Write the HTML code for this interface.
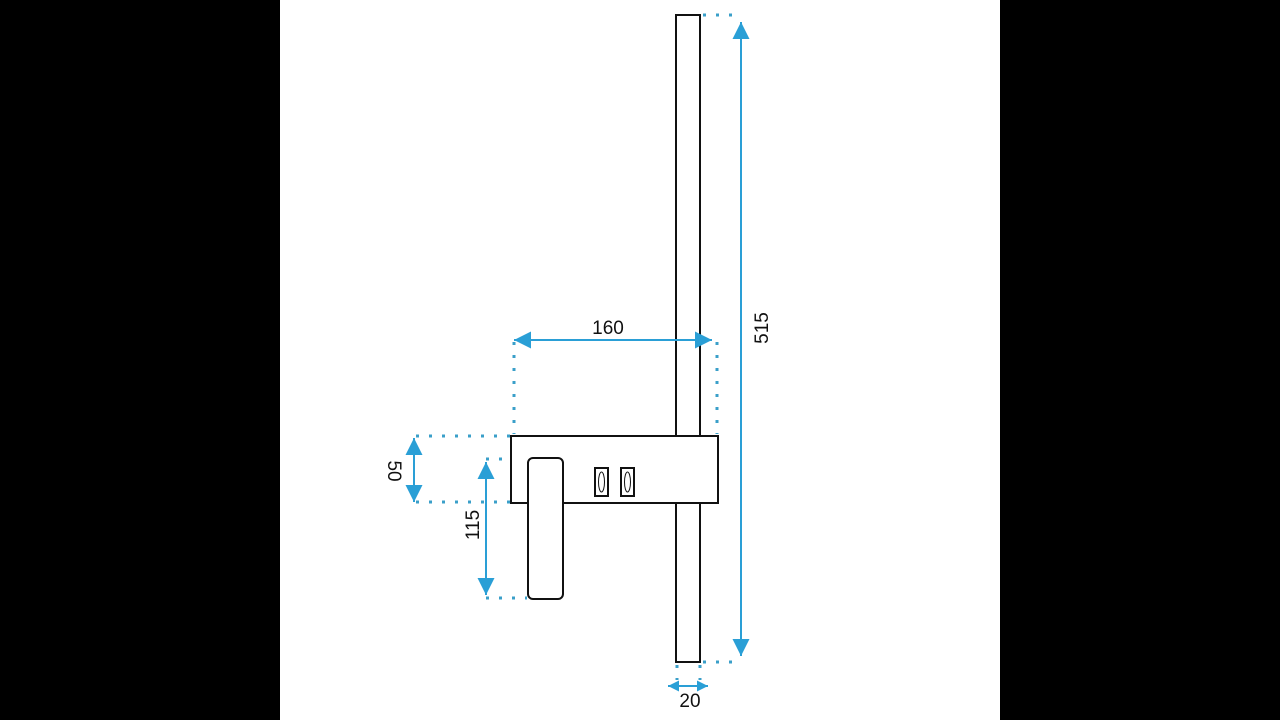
<!DOCTYPE html>
<html><head><meta charset="utf-8"><style>
html,body{margin:0;padding:0;background:#000;}
svg{display:block;}
text{font-family:"Liberation Sans",sans-serif;font-size:19px;fill:#111;}
</style></head><body>
<svg width="1280" height="720" viewBox="0 0 1280 720" xmlns="http://www.w3.org/2000/svg">
<defs>
<marker id="a" viewBox="0 0 10 10" refX="10" refY="5" markerWidth="11" markerHeight="11" markerUnits="userSpaceOnUse" orient="auto-start-reverse">
<path d="M0,0 L10,5 L0,10 z" fill="#2a9fd6"/></marker>
<marker id="b" viewBox="0 0 16 16" refX="16" refY="8" markerWidth="17" markerHeight="17" markerUnits="userSpaceOnUse" orient="auto-start-reverse">
<path d="M0,0 L16,8 L0,16 z" fill="#2a9fd6"/></marker>
</defs>
<rect x="280" y="0" width="720" height="720" fill="#fff"/>
<g stroke="#3a9fc9" stroke-width="3" stroke-dasharray="3 10" fill="none">
<line x1="703" y1="15" x2="742" y2="15"/>
<line x1="703" y1="662" x2="742" y2="662"/>
<line x1="514" y1="342" x2="514" y2="434"/>
<line x1="717" y1="342" x2="717" y2="434"/>
<line x1="416" y1="436" x2="510" y2="436"/>
<line x1="416" y1="502" x2="510" y2="502"/>
<line x1="486" y1="459" x2="527" y2="459"/>
<line x1="486" y1="598" x2="527" y2="598"/>
<line x1="677" y1="665" x2="677" y2="680"/>
<line x1="700" y1="665" x2="700" y2="680"/>
</g>
<g stroke="#111" stroke-width="2" fill="#fff">
<rect x="676" y="15" width="24" height="647"/>
<rect x="511" y="436" width="207" height="67"/>
<rect x="528" y="458" width="35" height="141" rx="5"/>
<rect x="595" y="468" width="13" height="28"/>
<rect x="621" y="468" width="13" height="28"/>
</g>
<g stroke="#111" stroke-width="1" fill="none">
<ellipse cx="601.5" cy="482" rx="3" ry="10"/>
<ellipse cx="627.5" cy="482" rx="3" ry="10"/>
</g>
<g stroke="#2a9fd6" stroke-width="2" fill="none">
<line x1="741" y1="22" x2="741" y2="656" marker-start="url(#b)" marker-end="url(#b)"/>
<line x1="514" y1="340" x2="712" y2="340" marker-start="url(#b)" marker-end="url(#b)"/>
<line x1="414" y1="438" x2="414" y2="502" marker-start="url(#b)" marker-end="url(#b)"/>
<line x1="486" y1="462" x2="486" y2="595" marker-start="url(#b)" marker-end="url(#b)"/>
<line x1="668" y1="686" x2="708" y2="686" marker-start="url(#a)" marker-end="url(#a)"/>
</g>
<text x="608" y="334" text-anchor="middle">160</text>
<text x="690" y="707" text-anchor="middle">20</text>
<text transform="translate(768,328) rotate(-90)" text-anchor="middle">515</text>
<text transform="translate(479,525) rotate(-90)" text-anchor="middle">115</text>
<text transform="translate(388,471) rotate(90)" text-anchor="middle">50</text>
</svg>
</body></html>
